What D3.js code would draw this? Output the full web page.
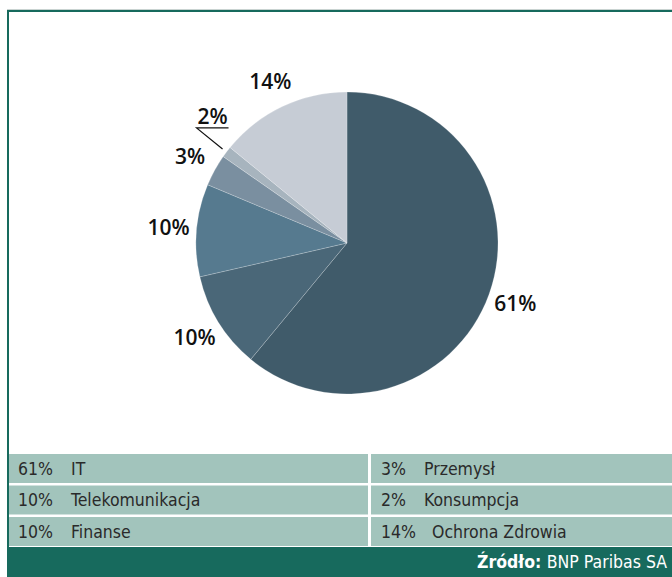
<!DOCTYPE html>
<html>
<head>
<meta charset="utf-8">
<script src="https://cdn.jsdelivr.net/npm/d3@7"></script>
<style>
  body { margin: 0; background: #fff; }
  svg { display: block; }
</style>
</head>
<body>
<div id="content"></div>
<script>
var width = 672;
var height = 577;

// shares (labels are the rounded ones printed)
var sectors = ['IT', 'Telekomunikacja', 'Finanse', 'Przemysł', 'Konsumpcja', 'Ochrona Zdrowia'];
var shares = [61.0, 10.4, 9.9, 3.4, 1.2, 14.1];
var shareLabels = ['61%', '10%', '10%', '3%', '2%', '14%'];
var colors = ['#405b6a', '#4a6778', '#567a8f', '#7a8fa0', '#a7b4be', '#c6ccd5'];

// legend table: left column then right column
var legendLeft = [0, 1, 2];
var legendRight = [3, 4, 5];
var source = 'BNP Paribas SA';

var svg = d3.select('div#content').append('svg')
    .attr('width', width)
    .attr('height', height);

var teal = '#176a5d';

// frame
svg.append('line')
    .attr('x1', 7).attr('x2', width).attr('y1', 9.5).attr('y2', 9.5)
    .attr('stroke', '#c9d3d1').attr('stroke-width', 1);
svg.append('rect')
    .attr('x', 7).attr('y', 10).attr('width', width).attr('height', 2)
    .attr('fill', teal);
svg.append('rect')
    .attr('x', 7).attr('y', 10).attr('width', 2).attr('height', 540)
    .attr('fill', teal);

// pie
var cx = 347, cy = 243, r = 151;
var pie = d3.pie().sort(null).value(function(d){ return d; });
var arcs = pie(shares);
var arc = d3.arc().innerRadius(0).outerRadius(r);
var labelArc = d3.arc().innerRadius(179).outerRadius(179);
var leaderArc = d3.arc().innerRadius(156).outerRadius(156);

var g = svg.append('g').attr('transform', 'translate(' + cx + ',' + cy + ')');

g.selectAll('path')
    .data(arcs).enter()
        .append('path')
            .attr('d', arc)
            .attr('fill', function(d, i){ return colors[i]; })
            .attr('stroke', 'rgba(255,255,255,0.35)')
            .attr('stroke-width', 0.6);

var labelFont = "'Open Sans', 'Noto Sans', sans-serif";

arcs.forEach(function(d, i){
    if (shares[i] < 2) {
        // small slice: label pulled out with a leader
        var p = leaderArc.centroid(d);
        var lx = p[0] - 26, ly = p[1] - 21;
        g.append('polyline')
            .attr('points', [p, [lx, ly], [lx + 32, ly]].map(function(q){ return q.join(','); }).join(' '))
            .attr('fill', 'none')
            .attr('stroke', '#111')
            .attr('stroke-width', 1.2);
        g.append('text')
            .attr('x', lx + 16)
            .attr('y', ly - 4)
            .attr('text-anchor', 'middle')
            .attr('font-family', labelFont)
            .attr('font-weight', 600)
            .attr('font-size', 21)
            .attr('fill', '#111')
            .text(shareLabels[i]);
        return;
    }
    var c = labelArc.centroid(d);
    g.append('text')
        .attr('x', c[0])
        .attr('y', c[1])
        .attr('dy', '0.36em')
        .attr('text-anchor', 'middle')
        .attr('font-family', labelFont)
        .attr('font-weight', 600)
        .attr('font-size', 21)
        .attr('fill', '#111')
        .text(shareLabels[i]);
});

// legend table
var rowFill = '#a2c4bc';
var tableTop = 454;
var rowY = d3.scaleBand().domain([0, 1, 2]).range([tableTop, 546]).paddingInner(0.08);
var colX = d3.scaleOrdinal().domain(['left', 'right']).range([9, 371]);
var colW = { left: 359, right: width - 371 };
var legendFont = "'Liberation Sans Narrow', 'DejaVu Sans Condensed', sans-serif";

[['left', legendLeft], ['right', legendRight]].forEach(function(col){
    var side = col[0];
    svg.selectAll('g.row-' + side)
        .data(col[1]).enter()
            .append('g')
                .attr('class', 'row-' + side)
                .attr('transform', function(d, j){ return 'translate(' + colX(side) + ',' + rowY(j) + ')'; })
                .each(function(d){
                    var row = d3.select(this);
                    row.append('rect')
                        .attr('width', colW[side])
                        .attr('height', rowY.bandwidth())
                        .attr('fill', rowFill);
                    row.append('text')
                        .attr('x', side === 'left' ? 9 : 10)
                        .attr('y', rowY.bandwidth() / 2)
                        .attr('dy', '0.35em')
                        .attr('font-family', legendFont)
                        .attr('font-size', 17.5)
                        .attr('fill', '#2a2a2a')
                        .text(shareLabels[d]);
                    row.append('text')
                        .attr('x', side === 'left' ? 62 : (shares[d] >= 10 ? 61 : 53))
                        .attr('y', rowY.bandwidth() / 2)
                        .attr('dy', '0.35em')
                        .attr('font-family', legendFont)
                        .attr('font-size', 17.5)
                        .attr('fill', '#2a2a2a')
                        .text(sectors[d]);
                });
});

// footer
svg.append('rect')
    .attr('x', 7).attr('y', 547).attr('width', width - 7).attr('height', height - 547)
    .attr('fill', teal);
var foot = svg.append('text')
    .attr('x', 667)
    .attr('y', 568)
    .attr('text-anchor', 'end')
    .attr('font-family', legendFont)
    .attr('font-size', 17.5)
    .attr('fill', '#ffffff');
foot.append('tspan').attr('font-weight', 700).text('Źródło: ');
foot.append('tspan').text(source);
</script>
</body>
</html>
